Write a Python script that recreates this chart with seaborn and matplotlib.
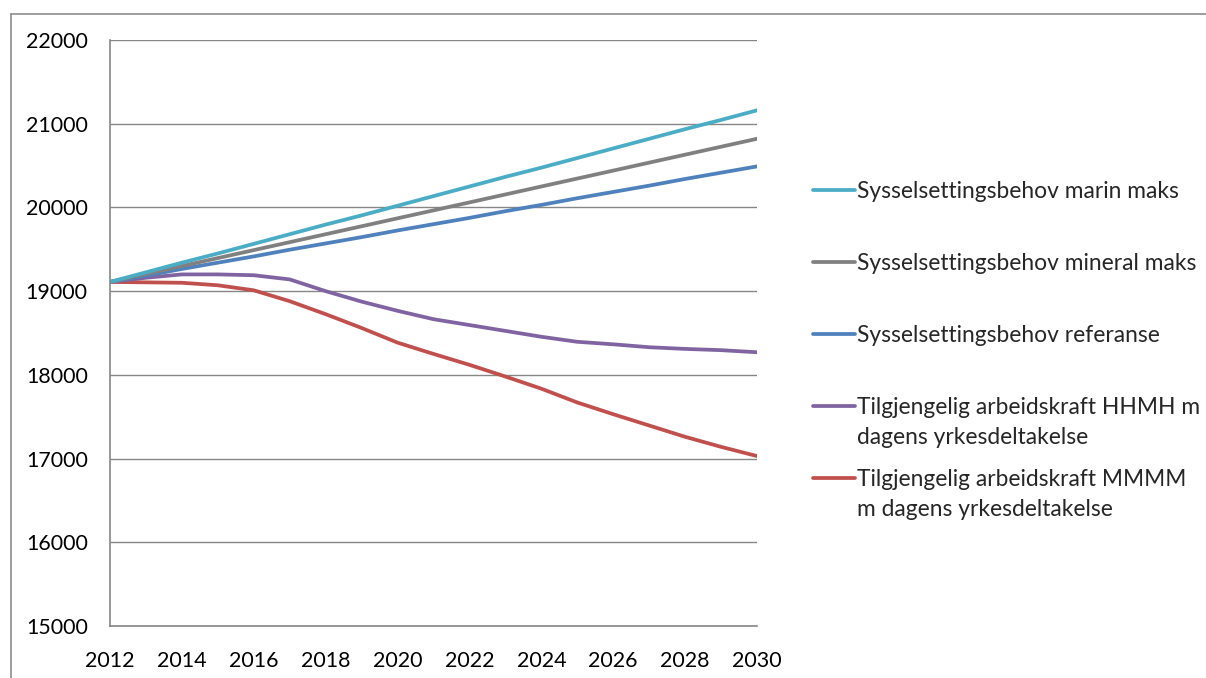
import pandas as pd
import matplotlib.pyplot as plt
import matplotlib.lines as mlines
import seaborn as sns

years = list(range(2012, 2031))

marin_maks = [19110, 19225, 19340, 19450, 19565, 19680, 19795, 19905, 20020, 20135,
              20250, 20365, 20475, 20590, 20705, 20820, 20935, 21045, 21160]
mineral_maks = [19110, 19205, 19300, 19395, 19490, 19585, 19680, 19775, 19870, 19965,
                20060, 20155, 20250, 20345, 20440, 20535, 20630, 20725, 20820]
referanse = [19110, 19185, 19265, 19340, 19415, 19495, 19570, 19645, 19725, 19800,
             19875, 19955, 20030, 20110, 20185, 20260, 20340, 20415, 20490]
hhmh = [19110, 19160, 19200, 19200, 19190, 19140, 19000, 18875, 18765, 18665,
        18595, 18525, 18455, 18395, 18365, 18330, 18310, 18295, 18270]
mmmm = [19110, 19105, 19100, 19070, 19010, 18880, 18725, 18560, 18385, 18250,
        18120, 17980, 17835, 17670, 17530, 17395, 17260, 17140, 17030]

labels = [
    'Sysselsettingsbehov marin maks',
    'Sysselsettingsbehov mineral maks',
    'Sysselsettingsbehov referanse',
    'Tilgjengelig arbeidskraft HHMH m\ndagens yrkesdeltakelse',
    'Tilgjengelig arbeidskraft MMMM\nm dagens yrkesdeltakelse',
]
colors = ['#4BACC6', '#808080', '#4F81BD', '#8064A2', '#C0504D']

df = pd.DataFrame({'Year': years})
for lab, vals in zip(labels, [marin_maks, mineral_maks, referanse, hhmh, mmmm]):
    df[lab] = vals
df_long = df.melt(id_vars='Year', var_name='Serie', value_name='Verdi')

sns.set_style('white')
plt.rcParams['font.family'] = ['Lato', 'DejaVu Sans']

W, H = 1206, 678
fig = plt.figure(figsize=(W / 100, H / 100), dpi=100)
ax = fig.add_axes([110 / W, 1 - 626 / H, (757 - 110) / W, (626 - 40) / H])

# draw bottom series first so the top ones overlay like the original
for lab, col in reversed(list(zip(labels, colors))):
    sns.lineplot(data=df_long[df_long['Serie'] == lab], x='Year', y='Verdi',
                 color=col, linewidth=2.7, ax=ax, legend=False)

ax.set_xlim(2012, 2030)
ax.set_ylim(15000, 22000)
ax.set_yticks(range(15000, 22001, 1000))
ax.set_xticks(years)
ax.set_xticklabels([str(y) if y % 2 == 0 else '' for y in years])
ax.set_xlabel('')
ax.set_ylabel('')

grey = '#868686'
ax.grid(axis='y', color=grey, linewidth=1.0)
ax.grid(axis='x', visible=False)
ax.set_axisbelow(True)
for s in ['top', 'right']:
    ax.spines[s].set_visible(False)
for s in ['left', 'bottom']:
    ax.spines[s].set_color(grey)
    ax.spines[s].set_linewidth(1.2)
ax.tick_params(axis='both', direction='out', length=5, width=1, color=grey,
               labelsize=15.4, labelcolor='black')
ax.tick_params(axis='y', pad=11)
ax.tick_params(axis='x', pad=13)

# manual legend, handle aligned with the first text line
legend_y = [190, 262, 334, 406, 478]
for lab, col, yy in zip(labels, colors, legend_y):
    fig.add_artist(mlines.Line2D([813 / W, 855 / W], [1 - yy / H, 1 - yy / H],
                                 color=col, linewidth=2.7))
    for i, part in enumerate(lab.split('\n')):
        fig.text(857 / W, 1 - (yy + 8 + i * 29.5) / H, part, fontsize=16.4,
                 va='baseline', ha='left')

# chart area border (partially outside the crop)
fig.add_artist(mlines.Line2D([11 / W, 1.0], [1 - 14 / H, 1 - 14 / H], color='#8c8c8c', linewidth=1.2))
fig.add_artist(mlines.Line2D([11 / W, 11 / W], [0, 1 - 14 / H], color='#8c8c8c', linewidth=1.2))

fig.savefig('out.png', dpi=100)
